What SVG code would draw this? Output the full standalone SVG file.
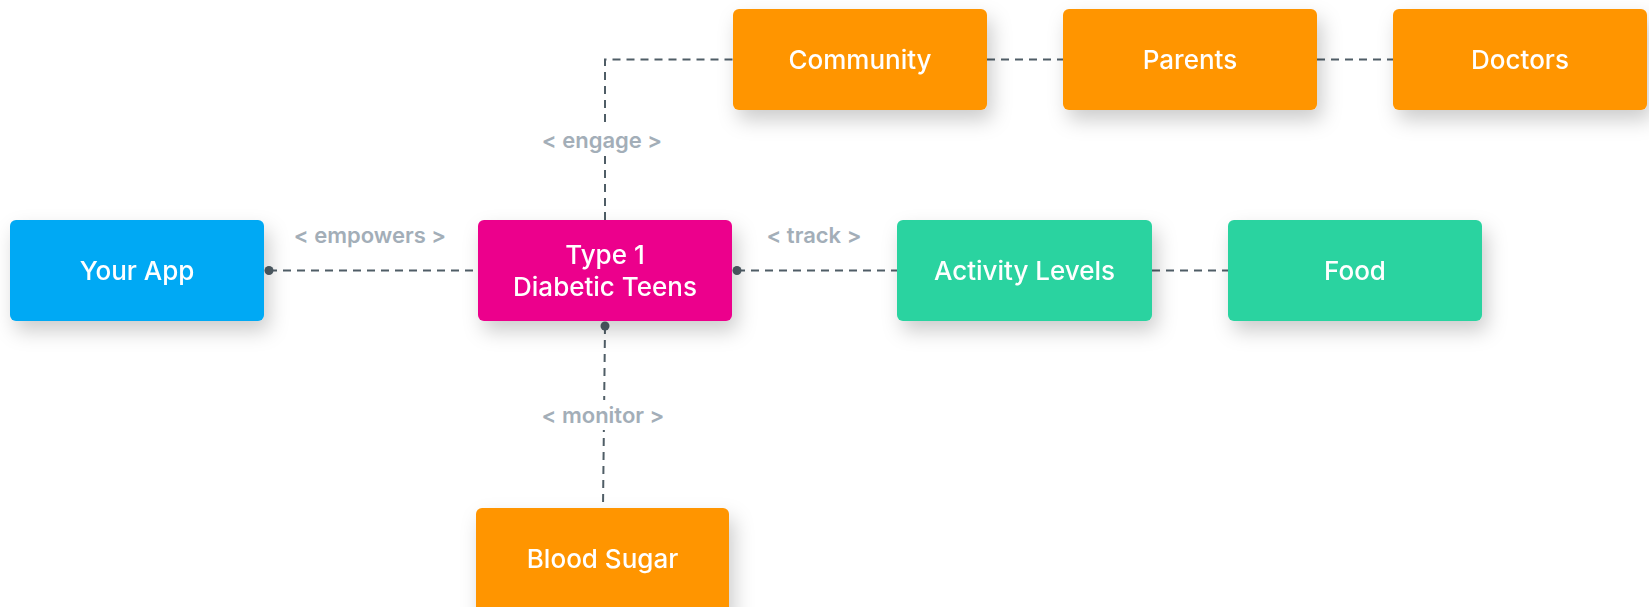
<svg xmlns="http://www.w3.org/2000/svg" width="1649" height="607" viewBox="0 0 1649 607">
  <style>
    .node rect { stroke: none; }
    .node text { font-family: Inter, "Liberation Sans", sans-serif; font-size: 26px; font-weight: 500; fill: #ffffff; text-anchor: middle; }
    .blue { fill: #03A9F4; }
    .pink { fill: #EC008C; }
    .orange { fill: #FF9500; }
    .green { fill: #2BD3A0; }
    .edge { fill: none; stroke: #4F5D66; stroke-width: 2; stroke-dasharray: 8 6; }
    .dot { fill: #4F5D66; }
    .lbl { font-family: Inter, "Liberation Sans", sans-serif; font-size: 22px; font-weight: 600; fill: #A3AEB8; text-anchor: middle; }
    .lblbg { fill: #ffffff; }
  </style>
  <defs>
    <filter id="shadow" x="-20%" y="-30%" width="150%" height="190%">
      <feDropShadow dx="5" dy="10" stdDeviation="10" flood-color="#000000" flood-opacity="0.2"/>
    </filter>
  </defs>

  <rect width="1649" height="607" fill="#ffffff"/>

  <!-- connectors -->
  <g id="connectors">
    <line class="edge" x1="269" y1="270.5" x2="478" y2="270.5"/>
    <circle class="dot" cx="269" cy="270.5" r="4.5"/>
    <line class="edge" x1="737" y1="270.5" x2="897" y2="270.5"/>
    <circle class="dot" cx="737" cy="270.5" r="4.5"/>
    <line class="edge" x1="1152" y1="270.5" x2="1228" y2="270.5"/>
    <polyline class="edge" points="605,220 605,59.5 733,59.5"/>
    <line class="edge" x1="987" y1="59.5" x2="1063" y2="59.5"/>
    <line class="edge" x1="1317" y1="59.5" x2="1393" y2="59.5"/>
    <line class="edge" x1="605" y1="326" x2="603" y2="508"/>
    <circle class="dot" cx="605" cy="326" r="4.5"/>

    <text class="lbl" x="370" y="243">&lt; empowers &gt;</text>
    <text class="lbl" x="814" y="243">&lt; track &gt;</text>
    <rect class="lblbg" x="540" y="125" width="126" height="30"/>
    <text class="lbl" x="602" y="148">&lt; engage &gt;</text>
    <rect class="lblbg" x="538" y="400" width="130" height="30"/>
    <text class="lbl" x="603" y="423">&lt; monitor &gt;</text>
  </g>

  <!-- nodes -->
  <g id="your-app" class="node" filter="url(#shadow)">
    <rect class="blue" x="10" y="220" width="254" height="101" rx="6"/>
    <text x="137" y="280">Your App</text>
  </g>
  <g id="type1-teens" class="node" filter="url(#shadow)">
    <rect class="pink" x="478" y="220" width="254" height="101" rx="6"/>
    <text x="605" y="264">Type 1</text>
    <text x="605" y="296">Diabetic Teens</text>
  </g>
  <g id="activity-levels" class="node" filter="url(#shadow)">
    <rect class="green" x="897" y="220" width="255" height="101" rx="6"/>
    <text x="1024.5" y="280">Activity Levels</text>
  </g>
  <g id="food" class="node" filter="url(#shadow)">
    <rect class="green" x="1228" y="220" width="254" height="101" rx="6"/>
    <text x="1355" y="280">Food</text>
  </g>
  <g id="community" class="node" filter="url(#shadow)">
    <rect class="orange" x="733" y="9" width="254" height="101" rx="6"/>
    <text x="860" y="69">Community</text>
  </g>
  <g id="parents" class="node" filter="url(#shadow)">
    <rect class="orange" x="1063" y="9" width="254" height="101" rx="6"/>
    <text x="1190" y="69">Parents</text>
  </g>
  <g id="doctors" class="node" filter="url(#shadow)">
    <rect class="orange" x="1393" y="9" width="254" height="101" rx="6"/>
    <text x="1520" y="69">Doctors</text>
  </g>
  <g id="blood-sugar" class="node" filter="url(#shadow)">
    <rect class="orange" x="476" y="508" width="253" height="110" rx="6"/>
    <text x="602.5" y="568">Blood Sugar</text>
  </g>
</svg>
